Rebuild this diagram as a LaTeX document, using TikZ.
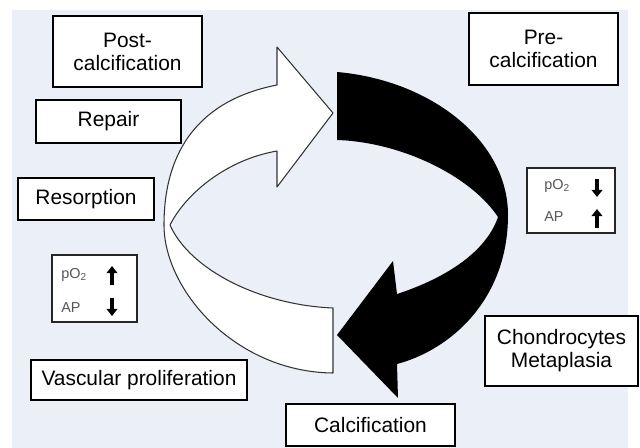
\documentclass[tikz,border=0pt]{standalone}
\usepackage{fontspec}
\setmainfont{Liberation Sans}
\usetikzlibrary{arrows.meta}
\definecolor{bgblue}{RGB}{235,239,247}
\definecolor{gastext}{RGB}{85,85,85}
\tikzset{
  stagebox/.style={draw=black,fill=white,line width=0.8pt,align=center,inner sep=0pt,font=\fontsize{11.9}{13}\selectfont},
  gasbox/.style={draw=black!85,fill=white,line width=0.8pt,inner sep=0pt},
  gaslabel/.style={anchor=west,inner sep=0pt,text=gastext,font=\fontsize{8.2}{9}\selectfont},
  gasarrow/.style={line width=2pt,-{Triangle[length=4pt,width=6pt]}},
  ribbon/.style={fill=white,draw=black!80,line width=0.6pt,line join=round}
}
\begin{document}
\begin{tikzpicture}[x=0.2mm,y=-0.2mm]
\useasboundingbox (0,0) rectangle (640,448);
\fill[white] (0,0) rectangle (640,448);
\fill[bgblue] (12,10) rectangle (628,448);
\draw[ribbon] (333,373) -- (333,308) .. controls (260,305) and (190,270) .. (170,225)
  .. controls (185,195) and (225,160) .. (277,151) -- (277,187) -- (333,113) -- (277,47) -- (277,85)
  .. controls (200,100) and (164,150) .. (164,225) .. controls (164,290) and (235,372) .. (333,373) -- cycle;
\fill[black] (337,72) .. controls (430,80) and (508,140) .. (508,215)
  .. controls (508,300) and (450,350) .. (397,364) -- (398,398) -- (337,335) -- (393,261) -- (397,294)
  .. controls (440,280) and (485,255) .. (498,217) .. controls (470,175) and (400,142) .. (337,140) -- cycle;
\node[stagebox,minimum width=29.8mm,minimum height=14.2mm] (post) at (127.5,51.5) {Post-\\calcification};
\node[stagebox,minimum width=29mm,minimum height=8.6mm] (repair) at (108.5,121.5) {Repair};
\node[stagebox,minimum width=27.2mm,minimum height=8.4mm] (resorp) at (86,199) {Resorption};
\node[stagebox,minimum width=29.8mm,minimum height=14.4mm] (pre) at (543.5,49) {Pre-\\calcification};
\node[stagebox,minimum width=30.6mm,minimum height=14mm] (chondro) at (561.5,351) {Chondrocytes\\Metaplasia};
\node[stagebox,minimum width=33.8mm,minimum height=8.4mm] (calc) at (370.5,425) {Calcification};
\node[stagebox,minimum width=43.2mm,minimum height=8mm] (vascular) at (139,380) {Vascular proliferation};
\node[gasbox,minimum width=17.6mm,minimum height=13mm] (gasR) at (571,200.5) {};
\node[gaslabel] (gasRpo) at (544,186) {pO\textsubscript{2}};
\node[gaslabel] (gasRap) at (544,217) {AP};
\draw[gasarrow] (597,179) -- (597,197);
\draw[gasarrow] (597,228) -- (597,209);
\node[gasbox,minimum width=17mm,minimum height=13.4mm] (gasL) at (94.5,288.5) {};
\node[gaslabel] (gasLpo) at (61,275) {pO\textsubscript{2}};
\node[gaslabel] (gasLap) at (61,308) {AP};
\draw[gasarrow] (112,285) -- (112,266);
\draw[gasarrow] (112,298) -- (112,316);
\end{tikzpicture}
\end{document}
